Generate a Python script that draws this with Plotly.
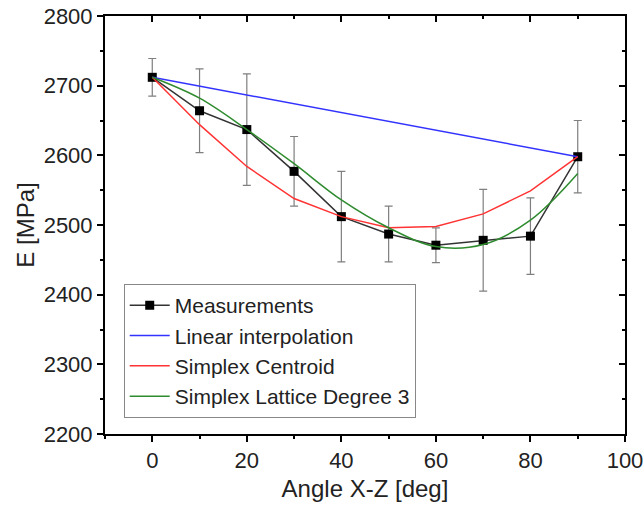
import plotly.graph_objects as go

# Measured modulus vs angle
angle = [0, 10, 20, 30, 40, 50, 60, 70, 80, 90]
e_meas = [2712, 2664, 2637, 2577, 2512, 2487, 2471, 2478, 2484, 2598]
e_err = [27, 60, 80, 50, 65, 40, 25, 73, 55, 52]

# Model curves
lin_angle = [0, 90]
lin_e = [2712, 2598]
centroid_e = [2712, 2644, 2584, 2538, 2512, 2496, 2498, 2516, 2549, 2598]
lattice_e = [2712, 2682, 2637, 2588, 2536, 2496, 2469, 2472, 2507, 2574]

FONT = "Liberation Sans, Arial, sans-serif"

fig = go.Figure()

fig.add_trace(go.Scatter(
    x=angle, y=e_meas, mode='lines+markers', name='Measurements',
    line=dict(color='#333333', width=1.5),
    marker=dict(symbol='square', size=9, color='black'),
    error_y=dict(type='data', array=e_err, visible=True,
                 color='#7f7f7f', thickness=1.2, width=4),
))
fig.add_trace(go.Scatter(
    x=lin_angle, y=lin_e, mode='lines', name='Linear interpolation',
    line=dict(color='#3333ff', width=1.5),
))
fig.add_trace(go.Scatter(
    x=angle, y=centroid_e, mode='lines', name='Simplex Centroid',
    line=dict(color='#ff3333', width=1.5),
))
fig.add_trace(go.Scatter(
    x=angle, y=lattice_e, mode='lines', name='Simplex Lattice Degree 3',
    line=dict(color='#2e8b2e', width=1.5, shape='spline', smoothing=1.0),
))
# helper so the mirrored (inside-tick) axes get drawn
fig.add_trace(go.Scatter(x=[None], y=[None], xaxis='x2', yaxis='y2',
                         showlegend=False, hoverinfo='skip'))

fig.update_layout(
    width=644, height=512,
    margin=dict(l=105, r=19, t=16, b=78, autoexpand=False),
    plot_bgcolor='white', paper_bgcolor='white',
    font=dict(family=FONT, size=22, color='#222222'),
    showlegend=True,
    legend=dict(x=0.036, y=0.038, xanchor='left', yanchor='bottom',
                bgcolor='white', bordercolor='#888888', borderwidth=1,
                font=dict(size=21, family=FONT, color='#222222'),
                tracegroupgap=0, itemwidth=40),
    xaxis=dict(
        range=[-10, 100], tick0=0, dtick=20, showgrid=False, zeroline=False,
        showline=True, linecolor='black', linewidth=2, mirror=True, automargin=False,
        ticks='outside', ticklen=6, tickwidth=2, tickcolor='black',
        minor=dict(dtick=10, ticks='outside', ticklen=3, tickwidth=2, tickcolor='black'),
        title=dict(text='Angle X-Z [deg]', font=dict(size=24), standoff=8),
    ),
    yaxis=dict(
        range=[2200, 2800], tick0=2200, dtick=100, showgrid=False, zeroline=False,
        showline=True, linecolor='black', linewidth=2, mirror=True, automargin=False,
        ticks='outside', ticklen=6, tickwidth=2, tickcolor='black',
        minor=dict(dtick=50, ticks='outside', ticklen=3, tickwidth=2, tickcolor='black'),
        title=dict(text='E [MPa]', font=dict(size=24), standoff=2),
    ),
    xaxis2=dict(
        overlaying='x', side='top', anchor='y2', range=[-10, 100], tick0=0, dtick=20,
        showgrid=False, zeroline=False, showline=False, showticklabels=False, automargin=False,
        ticks='inside', ticklen=6, tickwidth=2, tickcolor='black',
        minor=dict(dtick=10, ticks='inside', ticklen=3, tickwidth=2, tickcolor='black'),
    ),
    yaxis2=dict(
        overlaying='y', side='right', anchor='x2', range=[2200, 2800], tick0=2200, dtick=100,
        showgrid=False, zeroline=False, showline=False, showticklabels=False, automargin=False,
        ticks='inside', ticklen=6, tickwidth=2, tickcolor='black',
        minor=dict(dtick=50, ticks='inside', ticklen=3, tickwidth=2, tickcolor='black'),
    ),
)

# drop the default page margin so the figure sits at the window's corner
fig.write_html("out.html", config={'displayModeBar': False},
               post_script="document.body.style.margin='0';")
